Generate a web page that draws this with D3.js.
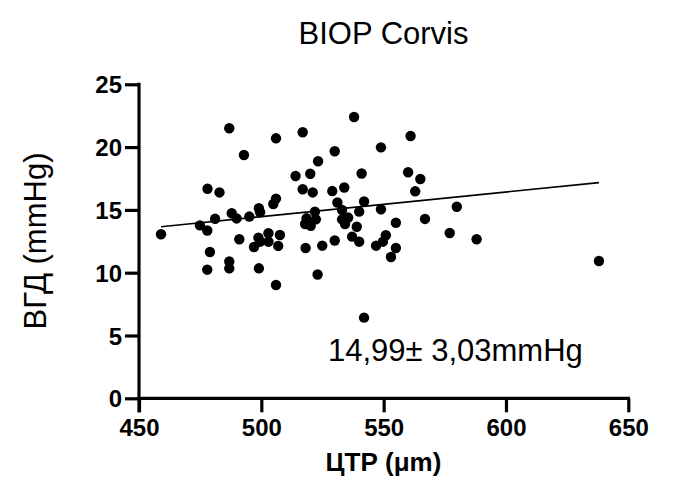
<!DOCTYPE html>
<html>
<head>
<meta charset="utf-8">
<script src="https://cdn.jsdelivr.net/npm/d3@7"></script>
<style>
  body { margin: 0; background: #fff; }
  text { font-family: Arial, "Liberation Sans", Helvetica, sans-serif; fill: #000; }
</style>
</head>
<body>
<script>
'use strict';

// CCT (µm) and IOP (mmHg) values
const ctr = [486.9, 506.0, 492.9, 516.9, 514.0, 516.9, 478.0, 482.9, 506.0, 504.9,
  499.0, 499.5, 487.9, 489.9, 481.1, 495.1, 474.9, 477.9, 459.0, 491.0,
  498.8, 502.9, 499.5, 502.9, 507.6, 506.9, 497.0, 479.0, 486.9, 486.9,
  477.9, 499.0, 506.0, 537.9, 561.0, 548.9, 530.0, 523.2, 520.0, 541.0,
  560.0, 565.0, 521.0, 529.0, 533.9, 562.9, 531.1, 542.0, 533.0, 540.0,
  548.9, 579.9, 521.9, 518.5, 522.3, 517.9, 520.2, 533.0, 535.5, 534.2,
  539.0, 555.0, 566.9, 537.1, 540.0, 546.9, 550.9, 549.7, 555.0, 553.0,
  530.0, 524.9, 518.1, 523.0, 577.0, 588.0, 638.0, 542.0];
const iop = [21.5, 20.7, 19.37, 21.18, 17.7, 16.64, 16.68, 16.39, 15.9, 15.47,
  15.13, 14.81, 14.73, 14.32, 14.29, 14.47, 13.77, 13.36, 13.06, 12.66,
  12.79, 13.14, 12.47, 12.47, 13.0, 12.13, 12.05, 11.65, 10.89, 10.35,
  10.24, 10.35, 9.02, 22.4, 20.88, 19.98, 19.67, 18.87, 17.88, 17.9,
  18.0, 17.46, 16.39, 16.5, 16.78, 16.48, 15.59, 15.67, 14.99, 14.86,
  15.05, 15.25, 14.86, 14.33, 14.25, 13.88, 13.74, 14.24, 14.39, 13.88,
  13.66, 13.98, 14.28, 12.87, 12.47, 12.15, 12.98, 12.47, 11.97, 11.25,
  12.56, 12.15, 11.97, 9.86, 13.16, 12.66, 10.93, 6.42];

// regression line ends
const fitX = [459, 638];
const fitY = [13.66, 17.17];

const xTicks = [450, 500, 550, 600, 650];
const yTicks = [0, 5, 10, 15, 20, 25];

const title = 'BIOP Corvis';
const xLabel = 'ЦТР (μm)';
const yLabel = 'ВГД (mmHg)';
const note = '14,99± 3,03mmHg';

const width = 690;
const height = 504;

const svg = d3.select('body').append('svg')
  .attr('width', width)
  .attr('height', height);

const x = d3.scaleLinear().domain([450, 650]).range([139, 628.3]);
const y = d3.scaleLinear().domain([0, 25]).range([398.3, 84.3]);

// y axis
const yAxis = svg.append('g')
  .attr('transform', 'translate(139,0)')
  .call(d3.axisLeft(y).tickValues(yTicks).tickSize(14).tickSizeOuter(0).tickPadding(3));
yAxis.select('.domain').remove();
yAxis.selectAll('.tick line').attr('stroke', '#000').attr('stroke-width', 3.2);
yAxis.selectAll('.tick text')
  .style('font-size', '24px').style('font-weight', 'bold')
  .attr('dy', '0.36em');
yAxis.append('line')
  .attr('x1', 0).attr('x2', 0)
  .attr('y1', y(25) - 1.6).attr('y2', y(0) + 14)
  .attr('stroke', '#000').attr('stroke-width', 3.2);

// x axis
const xAxis = svg.append('g')
  .attr('transform', 'translate(0,' + y(0) + ')')
  .call(d3.axisBottom(x).tickValues(xTicks).tickSize(14).tickSizeOuter(0).tickPadding(7));
xAxis.select('.domain').remove();
xAxis.selectAll('.tick line').attr('stroke', '#000').attr('stroke-width', 3.2);
xAxis.selectAll('.tick text')
  .style('font-size', '24px').style('font-weight', 'bold')
  .attr('dy', '0.71em');
xAxis.append('line')
  .attr('x1', x(450)).attr('x2', x(650) + 1.6)
  .attr('y1', 0).attr('y2', 0)
  .attr('stroke', '#000').attr('stroke-width', 3.2);

// points
svg.selectAll('.dot')
  .data(ctr.map((d, i) => [d, iop[i]]))
  .enter()
  .append('circle')
    .attr('class', 'dot')
    .attr('cx', d => x(d[0]))
    .attr('cy', d => y(d[1]))
    .attr('r', 5.2)
    .attr('fill', '#000');

// fit line
svg.append('line')
  .attr('x1', x(fitX[0])).attr('y1', y(fitY[0]))
  .attr('x2', x(fitX[1])).attr('y2', y(fitY[1]))
  .attr('stroke', '#000').attr('stroke-width', 1.6);

// texts
svg.append('text')
  .attr('x', 383.5).attr('y', 43.5)
  .attr('text-anchor', 'middle')
  .style('font-size', '31px')
  .text(title);

svg.append('text')
  .attr('x', 383.5).attr('y', 471)
  .attr('text-anchor', 'middle')
  .style('font-size', '26px').style('font-weight', 'bold')
  .text(xLabel);

svg.append('text')
  .attr('transform', 'translate(46,241)rotate(-90)')
  .attr('text-anchor', 'middle')
  .style('font-size', '31px')
  .text(yLabel);

svg.append('text')
  .attr('x', 328).attr('y', 361)
  .style('font-size', '31px')
  .text(note);
</script>
</body>
</html>
